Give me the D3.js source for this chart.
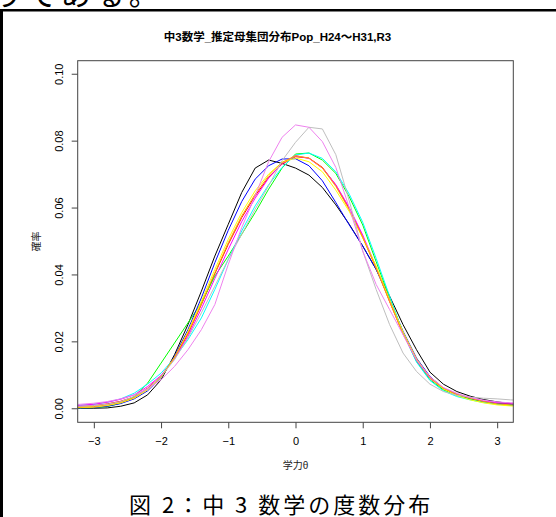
<!DOCTYPE html>
<html>
<head>
<meta charset="utf-8">
<script src="https://cdn.jsdelivr.net/npm/d3@7"></script>
<style>
   body { margin: 0; background: #fff; }
   svg { display: block; }
   .axis text { font-family: "Liberation Sans", Arial, sans-serif; font-size: 11px; fill: #000; }
   .axis line { stroke: #444; }
   .jp { font-family: "Liberation Sans", "Noto Sans CJK JP", sans-serif; }
</style>
</head>
<body>
<div id="chart"></div>
<script>
// theta grid (step 0.2) and tick labels
const theta = [-3.4, -3.2, -3.0, -2.8, -2.6, -2.4, -2.2, -2.0, -1.8, -1.6, -1.4, -1.2, -1.0, -0.8, -0.6, -0.4, -0.2,
   0, 0.2, 0.4, 0.6, 0.8, 1.0, 1.2, 1.4, 1.6, 1.8, 2.0, 2.2, 2.4, 2.6, 2.8, 3.0, 3.2, 3.4];
const thetaTicks = [-3, -2, -1, 0, 1, 2, 3];
const probTicks = [0, 0.02, 0.04, 0.06, 0.08, 0.10];

// estimated population distributions, one per curve colour
const popBlack = [0, 0, 0, 0.0001, 0.0006, 0.0016, 0.004, 0.0085, 0.016, 0.025, 0.035, 0.0455, 0.055, 0.0645, 0.0718, 0.0742, 0.0732,
   0.0718, 0.0697, 0.066, 0.0608, 0.055, 0.0485, 0.0415, 0.0335, 0.025, 0.0175, 0.0108, 0.0072, 0.005, 0.0036, 0.0026, 0.0019, 0.0014, 0.001];
const popRed = [0.0004, 0.0006, 0.0008, 0.0013, 0.0021, 0.0034, 0.006, 0.0095, 0.015, 0.0222, 0.031, 0.0402, 0.049, 0.057, 0.0635, 0.069, 0.073,
   0.0752, 0.0748, 0.072, 0.0667, 0.0597, 0.0512, 0.042, 0.032, 0.0223, 0.0145, 0.009, 0.0058, 0.004, 0.0028, 0.0019, 0.0014, 0.0012, 0.001];
const popGreen = [0.0001, 0.0001, 0.0002, 0.0005, 0.0015, 0.0035, 0.0075, 0.0135, 0.0195, 0.0255, 0.0315, 0.0395, 0.0455, 0.052, 0.0585, 0.0655, 0.0718,
   0.076, 0.0763, 0.0742, 0.0702, 0.0632, 0.0548, 0.0438, 0.033, 0.0225, 0.014, 0.0085, 0.0055, 0.0038, 0.0027, 0.0019, 0.0013, 0.0009, 0.0007];
const popBlue = [0.0001, 0.0001, 0.0002, 0.0006, 0.0014, 0.0028, 0.0052, 0.0092, 0.0155, 0.0235, 0.033, 0.0435, 0.0532, 0.0618, 0.0685, 0.0725, 0.0745,
   0.0746, 0.0725, 0.068, 0.0615, 0.0548, 0.0485, 0.0415, 0.0325, 0.023, 0.015, 0.0095, 0.006, 0.0042, 0.003, 0.002, 0.0014, 0.0011, 0.0009];
const popCyan = [0.0007, 0.0009, 0.0012, 0.0018, 0.0028, 0.0045, 0.0072, 0.0105, 0.015, 0.0205, 0.027, 0.0355, 0.0445, 0.053, 0.0605, 0.0668, 0.072,
   0.0757, 0.0763, 0.0747, 0.0707, 0.064, 0.0556, 0.0448, 0.0335, 0.0225, 0.0138, 0.0083, 0.0052, 0.0035, 0.0025, 0.0017, 0.0012, 0.0009, 0.0007];
const popMagenta = [0.0007, 0.0009, 0.0012, 0.0018, 0.0027, 0.004, 0.0065, 0.0098, 0.0148, 0.0215, 0.0298, 0.0388, 0.0475, 0.0558, 0.0628, 0.0688, 0.0732,
   0.0755, 0.0747, 0.0718, 0.0668, 0.06, 0.0518, 0.0422, 0.032, 0.0222, 0.0143, 0.009, 0.006, 0.0042, 0.0031, 0.0022, 0.0017, 0.0015, 0.0013];
const popYellow = [0.0001, 0.0002, 0.0003, 0.0008, 0.0016, 0.003, 0.0055, 0.0092, 0.0152, 0.023, 0.032, 0.0415, 0.0505, 0.0585, 0.065, 0.07, 0.0735,
   0.0748, 0.0737, 0.0707, 0.0652, 0.0588, 0.051, 0.0425, 0.0325, 0.0228, 0.0148, 0.0092, 0.0058, 0.0038, 0.0025, 0.0016, 0.001, 0.0007, 0.0005];
const popOrange = [0.0002, 0.0003, 0.0005, 0.001, 0.0018, 0.0032, 0.0058, 0.0094, 0.0152, 0.0225, 0.0312, 0.0405, 0.0495, 0.0575, 0.064, 0.0695, 0.0735,
   0.0755, 0.0748, 0.0718, 0.0663, 0.0593, 0.051, 0.0418, 0.0318, 0.0222, 0.0145, 0.0092, 0.006, 0.0042, 0.003, 0.002, 0.0013, 0.001, 0.0008];
const popGray = [0.0004, 0.0006, 0.0008, 0.0012, 0.002, 0.0035, 0.0058, 0.0095, 0.0145, 0.021, 0.0285, 0.0365, 0.0445, 0.052, 0.0595, 0.0665, 0.074,
   0.0795, 0.084, 0.0835, 0.0758, 0.062, 0.047, 0.0355, 0.025, 0.0165, 0.011, 0.0072, 0.005, 0.0039, 0.0033, 0.003, 0.0028, 0.0025, 0.0023];
const popViolet = [0.0009, 0.0012, 0.0015, 0.002, 0.0028, 0.004, 0.0058, 0.0085, 0.0125, 0.0175, 0.0235, 0.031, 0.043, 0.054, 0.0635, 0.0737, 0.081,
   0.0847, 0.084, 0.0797, 0.072, 0.06, 0.047, 0.037, 0.0295, 0.022, 0.0145, 0.0094, 0.0062, 0.0045, 0.0032, 0.0024, 0.0019, 0.0016, 0.0014];

const series = [
   { color: '#000000', values: popBlack },
   { color: '#ff0000', values: popRed },
   { color: '#00ff00', values: popGreen },
   { color: '#0000ff', values: popBlue },
   { color: '#00ffff', values: popCyan },
   { color: '#ff00ff', values: popMagenta },
   { color: '#ffff00', values: popYellow },
   { color: '#ffa500', values: popOrange },
   { color: '#bebebe', values: popGray },
   { color: '#ee82ee', values: popViolet }
];

const W = 556, H = 517;
const plot = { left: 77.7, right: 513.3, top: 60.7, bottom: 422.3 };

const svg = d3.select('#chart').append('svg')
   .attr('width', W)
   .attr('height', H);

// text cut off at the top of the page
svg.append('text')
   .attr('x', -7)
   .attr('y', 5)
   .attr('font-family', '"Noto Sans CJK JP", sans-serif')
   .attr('font-size', 30)
   .attr('letter-spacing', 4)
   .text('りである。');

// figure frame (open to the right and bottom)
svg.append('rect').attr('x', 0).attr('y', 9).attr('width', W).attr('height', 2.5).attr('fill', '#000');
svg.append('rect').attr('x', 0).attr('y', 9).attr('width', 3).attr('height', H - 9).attr('fill', '#000');

const x = d3.scaleLinear()
   .domain([-3.24, 3.24])
   .range([plot.left, plot.right]);

const y = d3.scaleLinear()
   .domain([-0.0042, 0.1039])
   .range([plot.bottom, plot.top]);

svg.append('defs').append('clipPath')
   .attr('id', 'clip')
   .append('rect')
      .attr('x', plot.left)
      .attr('y', plot.top)
      .attr('width', plot.right - plot.left)
      .attr('height', plot.bottom - plot.top);

const line = d3.line()
   .x((d, i) => x(theta[i]))
   .y(d => y(d));

svg.append('g')
   .attr('clip-path', 'url(#clip)')
   .selectAll('path')
   .data(series)
   .enter()
   .append('path')
      .attr('d', d => line(d.values))
      .attr('fill', 'none')
      .attr('stroke', d => d.color)
      .attr('stroke-width', 1);

// axes
const xAxis = svg.append('g')
   .attr('class', 'axis')
   .attr('transform', `translate(0, ${plot.bottom})`)
   .call(d3.axisBottom(x).tickValues(thetaTicks).tickSize(6).tickPadding(8.5).tickFormat(d3.format('d')));
xAxis.select('.domain').remove();

const yAxis = svg.append('g')
   .attr('class', 'axis')
   .attr('transform', `translate(${plot.left}, 0)`)
   .call(d3.axisLeft(y).tickValues(probTicks).tickSize(6).tickFormat(d3.format('.2f')));
yAxis.select('.domain').remove();
yAxis.selectAll('text')
   .attr('transform', 'rotate(-90)')
   .attr('x', 0)
   .attr('y', -14.7)
   .attr('dy', 0)
   .style('text-anchor', 'middle');

svg.append('rect')
   .attr('x', plot.left)
   .attr('y', plot.top)
   .attr('width', plot.right - plot.left)
   .attr('height', plot.bottom - plot.top)
   .attr('fill', 'none')
   .attr('stroke', '#444')
   .attr('stroke-width', 1);

// titles
svg.append('text')
   .attr('class', 'jp')
   .attr('x', 277.5)
   .attr('y', 40.5)
   .attr('text-anchor', 'middle')
   .attr('font-weight', 'bold')
   .attr('font-size', 11.5)
   .text('中3数学_推定母集団分布Pop_H24〜H31,R3');

svg.append('text')
   .attr('class', 'jp')
   .attr('x', 295.5)
   .attr('y', 468.5)
   .attr('text-anchor', 'middle')
   .attr('font-size', 10)
   .attr('fill', '#222')
   .text('学力θ');

svg.append('text')
   .attr('class', 'jp')
   .attr('transform', `translate(39.5, ${(plot.top + plot.bottom) / 2}) rotate(-90)`)
   .attr('text-anchor', 'middle')
   .attr('font-size', 10)
   .attr('fill', '#222')
   .text('確率');

// caption
svg.append('text')
   .attr('x', 129)
   .attr('y', 513)
   .attr('font-family', '"Noto Sans CJK JP", sans-serif')
   .attr('font-size', 22)
   .attr('letter-spacing', 3)
   .text('図 2：中 3 数学の度数分布');
</script>
</body>
</html>
